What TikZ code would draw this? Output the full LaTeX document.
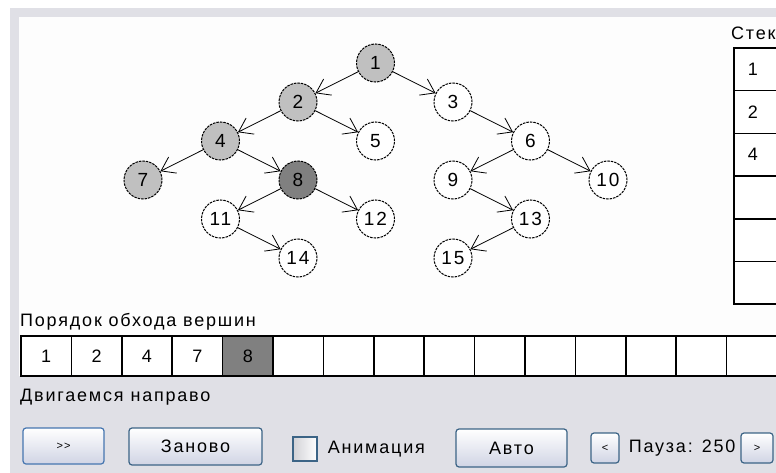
\documentclass[tikz,border=0pt]{standalone}
\usepackage{fontspec}
\setmainfont{Liberation Sans}[LetterSpace=10]
\usetikzlibrary{arrows.meta,positioning}

\definecolor{panelgray}{RGB}{224,224,230}
\definecolor{canvas}{RGB}{253,253,253}
\definecolor{visitgray}{RGB}{192,192,192}
\definecolor{curgray}{RGB}{128,128,128}
\definecolor{btnedge}{RGB}{60,100,134}
\definecolor{btnfocus}{RGB}{70,118,176}
\definecolor{btnlow}{RGB}{208,212,228}

\newcommand{\uifont}{\fontsize{18}{20}\selectfont}
\newcommand{\tinyui}{\fontsize{11}{12}\selectfont}

\begin{document}
\begin{tikzpicture}[x=1pt,y=-1pt,
		treenode/.style={circle, draw, dash pattern=on 2.5pt off 1pt, line width=1pt,
			minimum size=38pt, inner sep=0pt, fill=white, font=\fontsize{19}{20}\selectfont},
		visited/.style={fill=visitgray},
		current/.style={fill=curgray},
		edge/.style={line width=0.8pt, -{Straight Barb[length=13pt,width=18pt,line width=0.8pt]}},
		cellbox/.style={draw, line width=1.5pt, minimum width=50.4pt, minimum height=40pt,
			inner sep=0pt, fill=white, font=\uifont},
		stackcell/.style={draw, line width=1.5pt, minimum height=42.7pt, text width=80pt,
			align=left, inner xsep=14pt, inner ysep=0pt, fill=white, font=\uifont},
		btn/.style={draw=btnedge, line width=1.2pt, rounded corners=3pt,
			top color=white, bottom color=btnlow, inner sep=0pt, font=\uifont},
		txt/.style={inner sep=0pt, font=\uifont}
	]
	\clip (0,0) rectangle (776,473);
	\fill[white] (0,0) rectangle (776,473);
	\fill[panelgray] (10,8) rectangle (776,473);
	\fill[canvas] (19,17) rectangle (776,376);

	% tree
	\node[treenode, visited] (v1) at (375.5,63) {1};
	\node[treenode, visited] (v2) at (298,102) {2};
	\node[treenode] (v3) at (453,102) {3};
	\node[treenode, visited] (v4) at (220.5,141) {4};
	\node[treenode] (v5) at (375.5,141) {5};
	\node[treenode] (v6) at (530.5,141) {6};
	\node[treenode, visited] (v7) at (143,180) {7};
	\node[treenode, current] (v8) at (298,180) {8};
	\node[treenode] (v9) at (453,180) {9};
	\node[treenode] (v10) at (608,180) {10};
	\node[treenode] (v11) at (220.5,219) {11};
	\node[treenode] (v12) at (375.5,219) {12};
	\node[treenode] (v13) at (530.5,219) {13};
	\node[treenode] (v14) at (298,258) {14};
	\node[treenode] (v15) at (453,258) {15};

	\foreach \a/\b in {1/2,1/3,2/4,2/5,3/6,4/7,4/8,6/9,6/10,8/11,8/12,9/13,11/14,13/15}
		\draw[edge] (v\a) -- (v\b);

	% stack
	\node[txt, anchor=west] (stacklbl) at (731,33) {Стек};
	\foreach \j/\v in {0/1,1/2,2/4,3/,4/,5/}
		\node[stackcell, anchor=west] (s\j) at (733,{69.35+42.7*\j}) {\v};

	% traversal order
	\node[txt, anchor=west] (orderlbl) at (20,322) {Порядок обхода вершин};
	\foreach \i/\v in {0/1,1/2,2/4,3/7,4/,5/,6/,7/,8/,9/,10/,11/,12/,13/,14/}
		\node[cellbox] (o\i) at ({46.2+50.4*\i},356) {\v};
	\node[cellbox, fill=curgray] (o4) at (247.8,356) {8};

	\node[txt, anchor=west] (status) at (20,397) {Двигаемся направо};

	% controls
	\node[btn, draw=btnfocus, minimum width=81pt, minimum height=36pt, font=\tinyui] (step) at (63.5,446) {>{}>};
	\node[btn, minimum width=133pt, minimum height=37pt] (reset) at (195.5,446.5) {Заново};
	\node[draw=btnedge, line width=1.2pt, left color=panelgray!85!gray, right color=white,
		minimum size=24pt, inner sep=0pt] (anim) at (305,449) {};
	\node[txt, right=10pt of anim] (animlbl) {Анимация};
	\node[btn, minimum width=111pt, minimum height=38pt] (auto) at (511.5,448) {Авто};
	\node[btn, minimum width=28pt, minimum height=30pt, font=\tinyui] (slower) at (605,448) {<};
	\node[txt, right=9pt of slower] (pause) {Пауза: 250};
	\node[btn, minimum width=32pt, minimum height=30pt, font=\tinyui] (faster) at (757,448) {>};
\end{tikzpicture}
\end{document}
